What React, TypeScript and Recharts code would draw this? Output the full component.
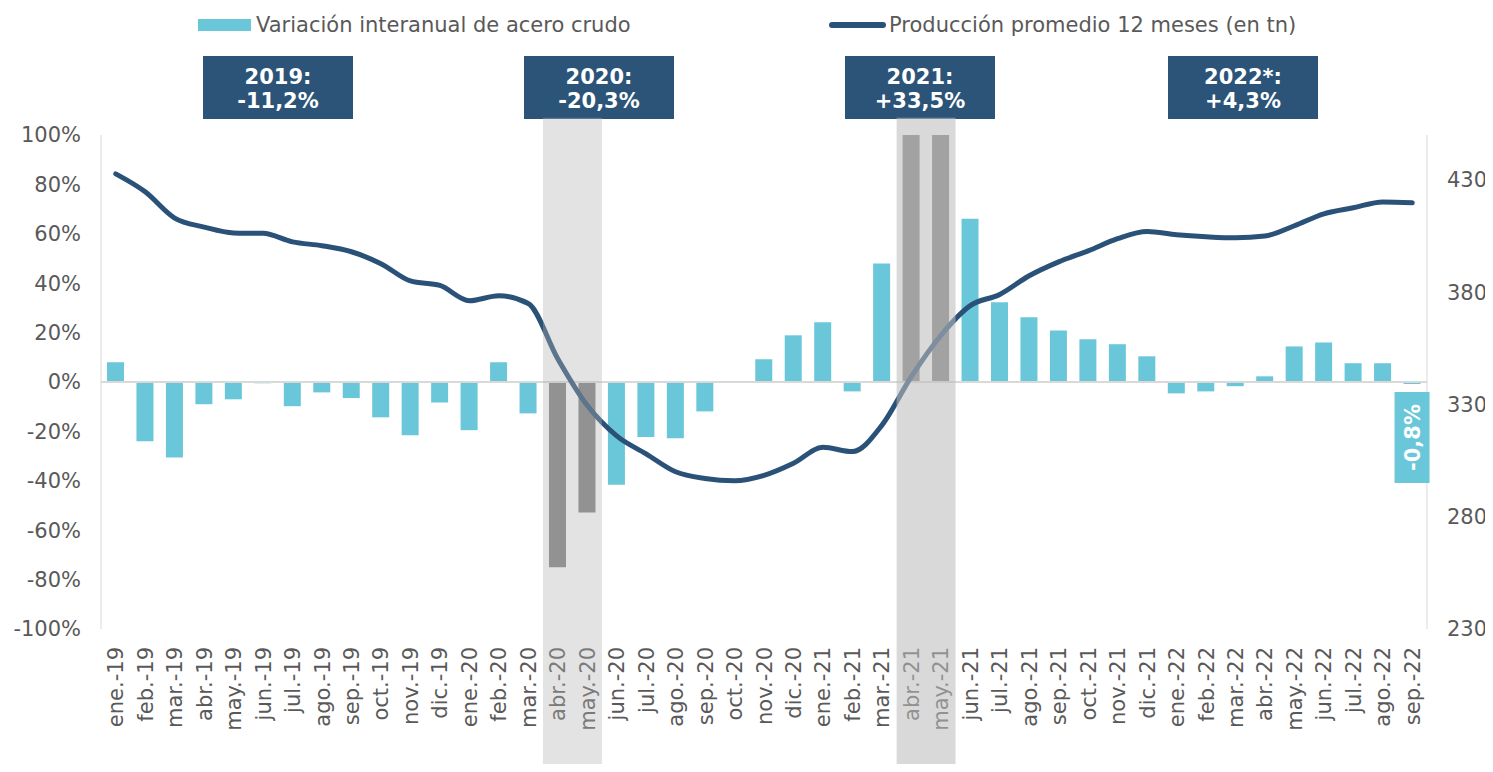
import { ComposedChart, Bar, Line, XAxis, YAxis, ReferenceArea, ReferenceLine, Cell, LabelList } from 'recharts';

const months = [
  'ene.-19', 'feb.-19', 'mar.-19', 'abr.-19', 'may.-19', 'jun.-19', 'jul.-19', 'ago.-19', 'sep.-19', 'oct.-19', 'nov.-19', 'dic.-19',
  'ene.-20', 'feb.-20', 'mar.-20', 'abr.-20', 'may.-20', 'jun.-20', 'jul.-20', 'ago.-20', 'sep.-20', 'oct.-20', 'nov.-20', 'dic.-20',
  'ene.-21', 'feb.-21', 'mar.-21', 'abr.-21', 'may.-21', 'jun.-21', 'jul.-21', 'ago.-21', 'sep.-21', 'oct.-21', 'nov.-21', 'dic.-21',
  'ene.-22', 'feb.-22', 'mar.-22', 'abr.-22', 'may.-22', 'jun.-22', 'jul.-22', 'ago.-22', 'sep.-22',
];

// variación interanual (%), abr/may-21 recortadas en 100% como en el gráfico
const variacion = [
  8.0, -24.0, -30.6, -9.0, -7.0, -0.5, -9.8, -4.2, -6.5, -14.3, -21.6, -8.3,
  -19.5, 8.0, -12.7, -75.0, -52.8, -41.6, -22.3, -22.8, -11.9, -0.3, 9.2, 18.9,
  24.2, -3.8, 48.0, 100, 100, 66.1, 32.3, 26.2, 20.9, 17.3, 15.3, 10.4,
  -4.6, -3.8, -1.7, 2.3, 14.4, 16.0, 7.6, 7.6, -0.8,
];

// producción promedio 12 meses (tn)
const produccion = [
  432.7, 424.7, 413.0, 409.0, 406.4, 406.2, 402.4, 400.7, 398.0, 392.7, 385.0, 383.0,
  376.2, 378.4, 375.0, 350.4, 329.6, 316.0, 308.0, 300.0, 297.0, 296.0, 298.4, 303.8,
  310.9, 309.0, 320.7, 342.4, 360.7, 374.0, 379.0, 387.3, 393.5, 398.4, 403.8, 407.0,
  405.6, 404.7, 404.2, 405.0, 409.6, 414.9, 417.6, 420.2, 419.8,
];

const pctTicks = [-100, -80, -60, -40, -20, 0, 20, 40, 60, 80, 100];
const tnTicks = [230, 280, 330, 380, 430];
const grayMonths = ['abr.-20', 'may.-20', 'abr.-21', 'may.-21'];
const yearLabels = ['2019:', '2020:', '2021:', '2022*:'];
const yearValues = ['-11,2%', '-20,3%', '+33,5%', '+4,3%'];

const data = months.map((m, i) => ({ month: m, variacion: variacion[i], produccion: produccion[i] }));

const FONT = '"DejaVu Sans", Verdana, sans-serif';
const CYAN = '#6ac7d9';
const NAVY = '#2a5278';
const GREY_TEXT = '#595959';
const W = 1493;
const H = 772;
const MARGIN = { top: 135, right: 0, bottom: 0, left: 11 };

const MonthTick = ({ x, y, payload }: any) => (
  <text
    x={0}
    y={0}
    transform={`translate(${x},${y}) rotate(-90)`}
    textAnchor="end"
    dy="0.36em"
    fill={GREY_TEXT}
    fontSize={21}
    fontFamily={FONT}
  >
    {payload.value}
  </text>
);

// solo la última barra lleva etiqueta
const LastLabel = (props: any) => {
  const { x, y, width, height, index, value } = props;
  if (index !== months.length - 1) return null;
  const cx = x + width / 2;
  const top = Math.max(y, y + height) + 8;
  const h = 91;
  return (
    <g>
      <rect x={cx - 17.5} y={top} width={35} height={h} fill={CYAN} />
      <text
        x={0}
        y={0}
        transform={`translate(${cx},${top + h / 2}) rotate(-90)`}
        textAnchor="middle"
        dy="0.36em"
        fill="#fff"
        fontWeight="bold"
        fontSize={21}
        fontFamily={FONT}
      >
        {`${value.toFixed(1).replace('.', ',')}%`}
      </text>
    </g>
  );
};

const boxLefts = [203, 524, 845, 1168];

// ejes compartidos por el gráfico y la capa de sombreado
function axes(visible: boolean) {
  return [
    <XAxis
      key="x"
      dataKey="month"
      interval={0}
      height={143}
      tick={visible ? <MonthTick /> : false}
      tickSize={0}
      tickMargin={18}
      axisLine={false}
      tickLine={false}
    />,
    <YAxis
      key="yl"
      yAxisId="left"
      domain={[-100, 100]}
      ticks={pctTicks}
      tickFormatter={(v: number) => `${v}%`}
      width={90}
      tickSize={0}
      tickMargin={20}
      tickLine={false}
      axisLine={visible ? { stroke: '#d9d9d9' } : false}
      tick={visible ? { fill: GREY_TEXT, fontSize: 21, fontFamily: FONT } : false}
      allowDataOverflow
    />,
    <YAxis
      key="yr"
      yAxisId="right"
      orientation="right"
      domain={[230, 450]}
      ticks={tnTicks}
      width={66}
      tickSize={0}
      tickMargin={20}
      tickLine={false}
      axisLine={visible ? { stroke: '#d9d9d9' } : false}
      tick={visible ? { fill: GREY_TEXT, fontSize: 21, fontFamily: FONT, textAnchor: 'start' } : false}
      allowDataOverflow
    />,
  ];
}

export default function App() {
  return (
    <div style={{ position: 'relative', width: W, height: H, margin: -8, fontFamily: FONT, background: '#fff' }}>
      {/* leyenda */}
      <div style={{ position: 'absolute', left: 198, top: 19, width: 53, height: 12, background: CYAN }} />
      <div style={{ position: 'absolute', left: 256, top: 11, fontSize: 21, color: GREY_TEXT, whiteSpace: 'nowrap', lineHeight: '28px' }}>
        Variación interanual de acero crudo
      </div>
      <div style={{ position: 'absolute', left: 829, top: 22, width: 57, height: 6, borderRadius: 3, background: NAVY }} />
      <div style={{ position: 'absolute', left: 889, top: 11, fontSize: 21, color: GREY_TEXT, whiteSpace: 'nowrap', lineHeight: '28px' }}>
        Producción promedio 12 meses (en tn)
      </div>

      {yearLabels.map((lbl, i) => (
        <div
          key={lbl}
          style={{
            position: 'absolute',
            left: boxLefts[i],
            top: 56,
            width: 150,
            height: 63,
            background: '#2c5479',
            color: '#fff',
            fontWeight: 'bold',
            fontSize: 21,
            lineHeight: '24px',
            textAlign: 'center',
            paddingTop: 9,
            boxSizing: 'border-box',
          }}
        >
          <div>{lbl}</div>
          <div>{yearValues[i]}</div>
        </div>
      ))}

      <div style={{ position: 'absolute', left: 0, top: 0 }}>
        <ComposedChart width={W} height={H} data={data} margin={MARGIN} barSize={17}>
          {axes(true)}
          <ReferenceLine yAxisId="left" y={0} stroke="#d9d9d9" strokeWidth={2} />
          <Bar yAxisId="left" dataKey="variacion" fill={CYAN} isAnimationActive={false}>
            {data.map((d) => (
              <Cell key={d.month} fill={grayMonths.includes(d.month) ? '#7f7f7f' : CYAN} />
            ))}
            <LabelList dataKey="variacion" content={<LastLabel />} />
          </Bar>
          <Line
            yAxisId="right"
            type="monotone"
            dataKey="produccion"
            stroke={NAVY}
            strokeWidth={5}
            strokeLinecap="round"
            dot={false}
            activeDot={false}
            isAnimationActive={false}
          />
        </ComposedChart>
      </div>

      {/* capa de sombreado por encima de barras, línea y etiquetas */}
      <div style={{ position: 'absolute', left: 0, top: 0, pointerEvents: 'none' }}>
        <ComposedChart width={W} height={H} data={data} margin={MARGIN} barSize={17}>
          {axes(false)}
          <Bar yAxisId="left" dataKey="variacion" fill="none" isAnimationActive={false} />
          <ReferenceArea
            yAxisId="left"
            x1="abr.-20"
            x2="may.-20"
            y1={-158}
            y2={107}
            ifOverflow="visible"
            fill="#b4b4b4"
            fillOpacity={0.37}
            stroke="none"
          />
          <ReferenceArea
            yAxisId="left"
            x1="abr.-21"
            x2="may.-21"
            y1={-158}
            y2={107}
            ifOverflow="visible"
            fill="#bcbcbc"
            fillOpacity={0.57}
            stroke="none"
          />
        </ComposedChart>
      </div>
    </div>
  );
}
